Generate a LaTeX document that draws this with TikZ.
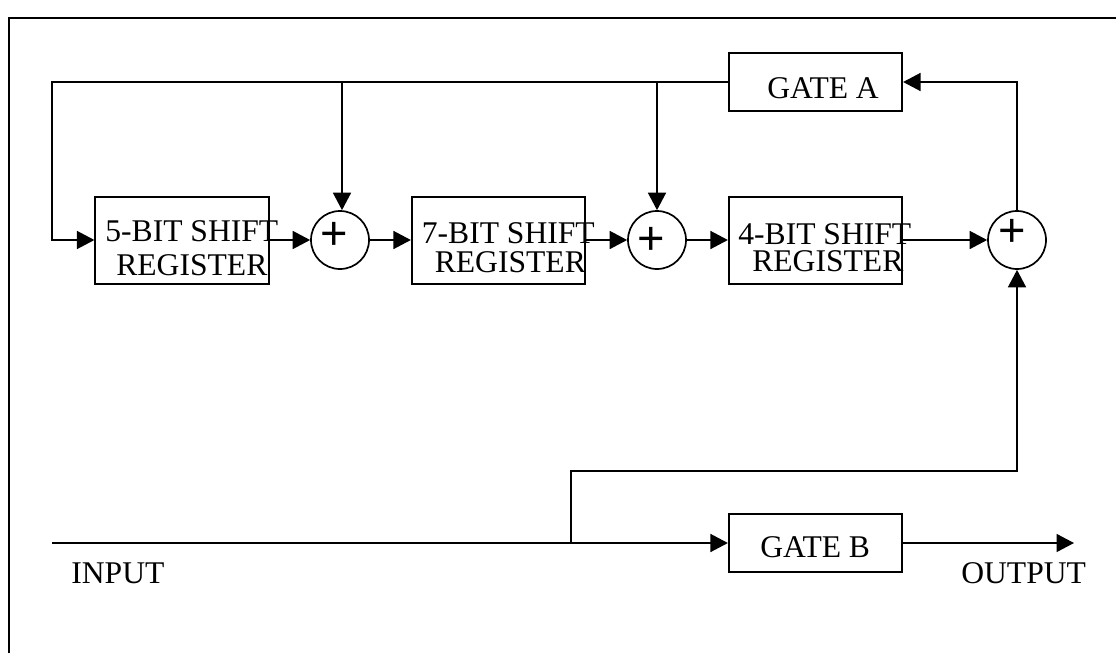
\documentclass[tikz,border=0pt]{standalone}
\usepackage{fontspec}
\setmainfont{Liberation Serif}
\newfontfamily\plusfont{Liberation Sans}
\usetikzlibrary{arrows.meta}

\begin{document}
\begin{tikzpicture}[
    x=1pt, y=-1pt,
    line width=1.7pt,
    font=\fontsize{31.6pt}{34pt}\selectfont,
    register/.style={rectangle, draw, minimum width=173.5pt, minimum height=87pt, inner sep=0pt},
    gatebox/.style={rectangle, draw, minimum width=173.5pt, minimum height=58pt, inner sep=0pt},
    adder/.style={circle, draw, minimum size=58pt, inner sep=0pt},
    txt/.style={inner sep=0pt, anchor=base west},
    plus/.style={inner sep=0pt, font=\plusfont\fontsize{47pt}{47pt}\selectfont},
    arrow/.style={-{Triangle[length=17.5pt,width=18pt]}}
]
\useasboundingbox (0,0) rectangle (1116,653);

\coordinate (frameTL) at (9,18);
\coordinate (frameTR) at (1116,18);
\coordinate (frameBL) at (9,653);
\draw (frameBL) -- (frameTL) -- (frameTR);

\node[register] (reg5) at (182,240.5) {};
\node[adder] (add1) at (340,240) {};
\node[register] (reg7) at (498.5,240.5) {};
\node[adder] (add2) at (657,240) {};
\node[register] (reg4) at (815.5,240.5) {};
\node[adder] (add3) at (1017,240) {};
\node[gatebox] (gatea) at (815.5,82) {};
\node[gatebox] (gateb) at (815.5,543) {};

\node[txt] (reg5a) at (104.5,241) {5-BIT SHIFT};
\node[txt] (reg5b) at (115.5,275) {REGISTER};
\node[txt] (reg7a) at (421,243) {7-BIT SHIFT};
\node[txt] (reg7b) at (434,272) {REGISTER};
\node[txt] (reg4a) at (737.5,244) {4-BIT SHIFT};
\node[txt] (reg4b) at (751.5,271) {REGISTER};
\node[txt] (gatealabel) at (766.5,98) {GATE A};
\node[txt] (gateblabel) at (759.5,557) {GATE B};
\node[txt] (inlabel) at (70.5,583) {INPUT};
\node[txt] (outlabel) at (960.5,583) {OUTPUT};

\node[plus] (plus1) at (334,236) {+};
\node[plus] (plus2) at (651,241) {+};
\node[plus] (plus3) at (1012,233) {+};

\coordinate (fbleft) at (52,82);
\coordinate (fbreg) at (52,240);
\coordinate (tap1) at (342,82);
\coordinate (tap2) at (657,82);
\coordinate (instart) at (52,543);
\coordinate (branch) at (571,543);
\coordinate (branchtop) at (571,471);
\coordinate (outend) at (1074,543);
\coordinate (upright) at (1017,82);

\draw[arrow] (gatea.west) -- (fbleft) -- (fbreg) -- (reg5.west |- fbreg);
\draw[arrow] (tap1) -- (tap1 |- add1.north);
\draw[arrow] (tap2) -- (add2.north);
\draw[arrow] (reg5.east |- add1) -- (add1.west);
\draw[arrow] (add1.east) -- (reg7.west |- add1);
\draw[arrow] (reg7.east |- add2) -- (add2.west);
\draw[arrow] (add2.east) -- (reg4.west |- add2);
\draw[arrow] (reg4.east |- add3) -- (add3.west);
\draw[arrow] (add3.north) -- (upright) -- (gatea.east);
\draw[arrow] (instart) -- (gateb.west);
\draw[arrow] (branch) -- (branchtop) -| (add3.south);
\draw[arrow] (gateb.east) -- (outend);
\end{tikzpicture}
\end{document}
